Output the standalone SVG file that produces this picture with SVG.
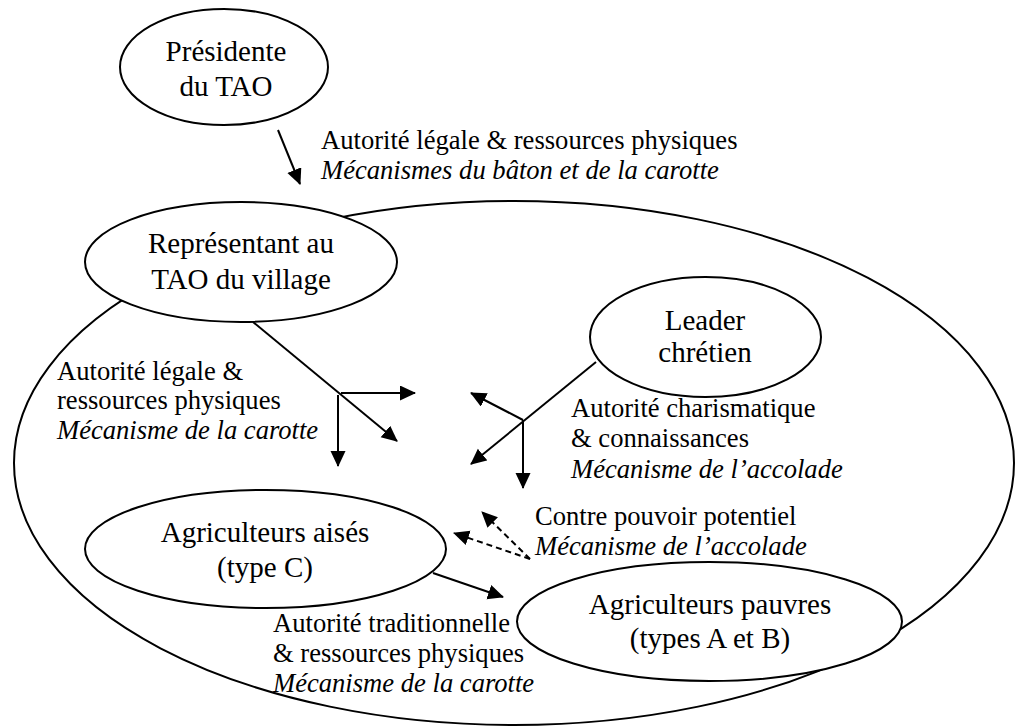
<svg xmlns="http://www.w3.org/2000/svg" width="1016" height="727" viewBox="0 0 1016 727">
<style>
.el{fill:#fff;stroke:#000;stroke-width:2}
.big{fill:none;stroke:#000;stroke-width:2}
.nt{font-size:29px;fill:#000;text-anchor:middle}
.lb{font-size:26.6px;fill:#000}
.it{font-style:italic}
.cn{stroke:#000;stroke-width:2;fill:none}
.ds{stroke-dasharray:6 4}
</style>
<defs>
<marker id="ah" markerUnits="userSpaceOnUse" markerWidth="17" markerHeight="16" refX="15" refY="7.5" orient="auto">
<path d="M0,0 L16,7.5 L0,15 Z" fill="#000"/>
</marker>
</defs>
<rect width="1016" height="727" fill="#fff"/>
<g id="village">
<ellipse class="big" cx="514" cy="463" rx="500" ry="262"/>
</g>
<g font-family="'Liberation Serif', Tinos, 'DejaVu Serif', 'Times New Roman', serif">
<g id="presidente">
<ellipse class="el" cx="224" cy="67" rx="104" ry="58"/>
<text class="nt" x="226" y="61">Présidente</text>
<text class="nt" x="226" y="96">du TAO</text>
</g>
<g id="representant">
<ellipse class="el" cx="241" cy="262" rx="156" ry="60"/>
<text class="nt" x="241" y="253">Représentant au</text>
<text class="nt" x="241" y="289">TAO du village</text>
</g>
<g id="leader">
<ellipse class="el" cx="705.5" cy="337" rx="115.5" ry="60"/>
<text class="nt" x="705" y="330">Leader</text>
<text class="nt" x="705" y="362">chrétien</text>
</g>
<g id="aises">
<ellipse class="el" cx="265.5" cy="549" rx="180.5" ry="59"/>
<text class="nt" x="265" y="542">Agriculteurs aisés</text>
<text class="nt" x="265" y="577">(type C)</text>
</g>
<g id="pauvres">
<ellipse class="el" cx="709.5" cy="621.5" rx="192.5" ry="59.5"/>
<text class="nt" x="710" y="614">Agriculteurs pauvres</text>
<text class="nt" x="710" y="648">(types A et B)</text>
</g>
<g id="connectors">
<line class="cn" x1="278" y1="130" x2="300" y2="184" marker-end="url(#ah)"/>
<line class="cn" x1="253" y1="322" x2="397" y2="441" marker-end="url(#ah)"/>
<line class="cn" x1="341" y1="393" x2="415" y2="393" marker-end="url(#ah)"/>
<line class="cn" x1="338" y1="395" x2="338" y2="466" marker-end="url(#ah)"/>
<line class="cn" x1="596" y1="362" x2="471" y2="464" marker-end="url(#ah)"/>
<line class="cn" x1="523" y1="420" x2="471" y2="393" marker-end="url(#ah)"/>
<line class="cn" x1="523" y1="420" x2="523" y2="488" marker-end="url(#ah)"/>
<line class="cn ds" x1="530" y1="559" x2="482" y2="512" marker-end="url(#ah)"/>
<line class="cn ds" x1="530" y1="559" x2="454" y2="533" marker-end="url(#ah)"/>
<line class="cn" x1="433" y1="573" x2="503" y2="597" marker-end="url(#ah)"/>
</g>
<g id="labels">
<text class="lb" x="321" y="149">Autorité légale &amp; ressources physiques</text>
<text class="lb it" x="321" y="179">Mécanismes du bâton et de la carotte</text>
<text class="lb" x="57" y="380">Autorité légale &amp;</text>
<text class="lb" x="57" y="409">ressources physiques</text>
<text class="lb it" x="57" y="439">Mécanisme de la carotte</text>
<text class="lb" x="571" y="417">Autorité charismatique</text>
<text class="lb" x="571" y="447">&amp; connaissances</text>
<text class="lb it" x="571" y="478">Mécanisme de l’accolade</text>
<text class="lb" x="535" y="525">Contre pouvoir potentiel</text>
<text class="lb it" x="535" y="555">Mécanisme de l’accolade</text>
<text class="lb" x="273" y="632">Autorité traditionnelle</text>
<text class="lb" x="273" y="662">&amp; ressources physiques</text>
<text class="lb it" x="273" y="692">Mécanisme de la carotte</text>
</g>
</g>
</svg>
